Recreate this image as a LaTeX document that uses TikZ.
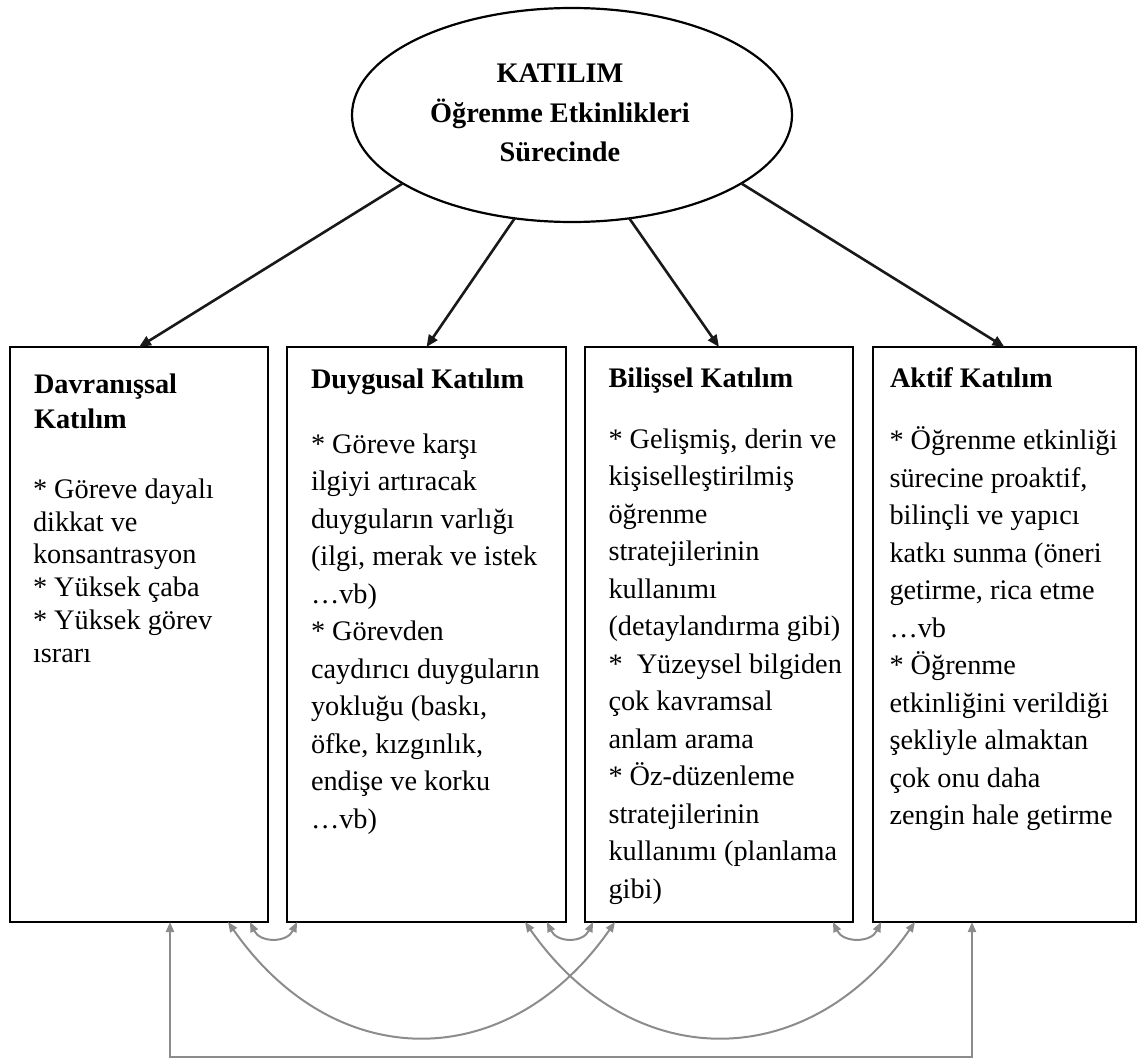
\documentclass[tikz,border=0pt]{standalone}
\usepackage{fontspec}
\setmainfont{Liberation Serif}
\usetikzlibrary{arrows.meta,shapes.geometric,calc}
\definecolor{cgray}{HTML}{8C8C8C}
\begin{document}
\begin{tikzpicture}[x=0.5pt,y=-0.5pt,
  box/.style={draw=black,line width=1.4pt,inner sep=0pt,outer sep=0pt,rectangle,minimum height=287.5pt},
  txt/.style={anchor=base west,align=left,inner sep=0pt,outer sep=0pt,font=\fontsize{14.15pt}{18.75pt}\selectfont},
  txtA/.style={txt,font=\fontsize{14.15pt}{16.35pt}\selectfont},
  headA/.style={txt,font=\fontsize{14.15pt}{17.5pt}\selectfont\bfseries},
  head/.style={txt,font=\fontsize{14.15pt}{18.75pt}\selectfont\bfseries},
  toparrow/.style={draw=black!90,line width=1.3pt,-{Triangle[length=6pt,width=5pt]}},
  grayarrow/.style={draw=cgray,line width=1pt,{Triangle[length=5pt,width=4pt]}-{Triangle[length=5pt,width=4pt]}}
]
\useasboundingbox (0,0) rectangle (1139,1059);

% central ellipse
\node[ellipse,draw=black,line width=1.1pt,minimum width=220pt,minimum height=107pt,inner sep=0pt,outer sep=0pt] (ell) at (572,115) {};
\node[anchor=base,align=center,inner sep=0pt,font=\fontsize{14.15pt}{19.75pt}\selectfont\bfseries] (et) at (560,162)
  {KATILIM\\Öğrenme Etkinlikleri\\Sürecinde};

% boxes
\node[box,minimum width=129pt] (b1) at (139,634.5) {};
\node[box,minimum width=139.5pt] (b2) at (426.5,634.5) {};
\node[box,minimum width=134pt] (b3) at (719,634.5) {};
\node[box,minimum width=131.5pt] (b4) at (1004.5,634.5) {};

% box 1
\node[headA] (h1) at (34,428) {Davranışsal\\Katılım};
\node[txtA] (t1) at (33,662) {* Göreve dayalı\\dikkat ve\\konsantrasyon\\* Yüksek çaba\\* Yüksek görev\\ısrarı};

% box 2
\node[head] (h2) at (311,388) {Duygusal Katılım};
\node[txt] (t2) at (311,828) {* Göreve karşı\\ilgiyi artıracak\\duyguların varlığı\\(ilgi, merak ve istek\\\ldots vb)\\* Görevden\\caydırıcı duyguların\\yokluğu (baskı,\\öfke, kızgınlık,\\endişe ve korku\\\ldots vb)};

% box 3
\node[head] (h3) at (608.5,387) {Bilişsel Katılım};
\node[txt] (t3) at (608.5,898) {* Gelişmiş, derin ve\\kişiselleştirilmiş\\öğrenme\\stratejilerinin\\kullanımı\\(detaylandırma gibi)\\*\ \ Yüzeysel bilgiden\\çok kavramsal\\anlam arama\\* Öz-düzenleme\\stratejilerinin\\kullanımı (planlama\\gibi)};

% box 4
\node[head] (h4) at (890,387) {Aktif Katılım};
\node[txt] (t4) at (889.5,824.5) {* Öğrenme etkinliği\\sürecine proaktif,\\bilinçli ve yapıcı\\katkı sunma (öneri\\getirme, rica etme\\\ldots vb\\* Öğrenme\\etkinliğini verildiği\\şekliyle almaktan\\çok onu daha\\zengin hale getirme};

% arrows from ellipse
\draw[toparrow] (ell.202.5) -- (b1.north);
\draw[toparrow] (ell.241) -- (b2.north);
\draw[toparrow] (ell.299.8) -- (b3.north);
\draw[toparrow] (ell.338.8) -- (b4.north);

% bottom connectors
\draw[grayarrow] ([xshift=15.5pt]b1.south) -- ++(0,135) -| ([xshift=-16.25pt]b4.south);
\draw[grayarrow] ([xshift=44.5pt]b1.south) .. controls +(107,153) and +(-107,153) .. ([xshift=-52pt]b3.south);
\draw[grayarrow] ([xshift=49.25pt]b2.south) .. controls +(107,153) and +(-107,153) .. ([xshift=-44.75pt]b4.south);
\draw[grayarrow] ([xshift=55.5pt]b1.south) .. controls +(10,21) and +(-10,21) .. ([xshift=-64.75pt]b2.south);
\draw[grayarrow] ([xshift=60.25pt]b2.south) .. controls +(10,21) and +(-10,21) .. ([xshift=-63pt]b3.south);
\draw[grayarrow] ([xshift=57pt]b3.south) .. controls +(10,21) and +(-10,21) .. ([xshift=-61.75pt]b4.south);
\end{tikzpicture}
\end{document}
